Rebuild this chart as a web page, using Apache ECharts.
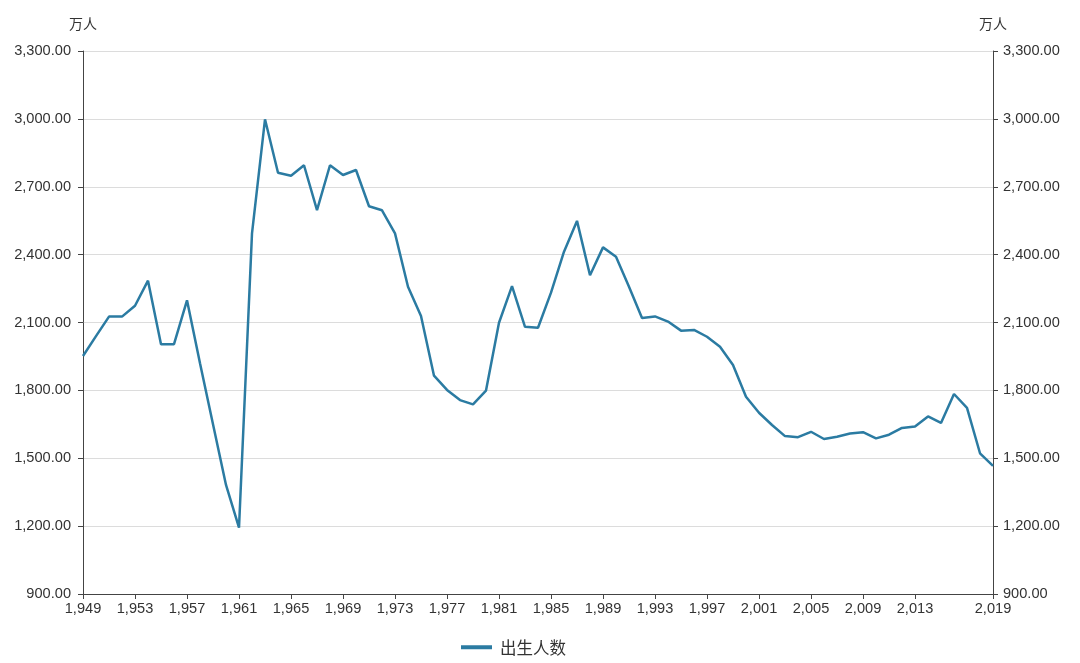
<!DOCTYPE html>
<html>
<head>
<meta charset="utf-8">
<script src="https://cdn.jsdelivr.net/npm/echarts@6/dist/echarts.min.js"></script>
<style>
html,body{margin:0;padding:0;background:#fff;}
#chart{width:1080px;height:663px;}
</style>
</head>
<body>
<div id="chart"></div>
<script>
const years = [
  1949,1950,1951,1952,1953,1954,1955,1956,1957,1958,
  1959,1960,1961,1962,1963,1964,1965,1966,1967,1968,
  1969,1970,1971,1972,1973,1974,1975,1976,1977,1978,
  1979,1980,1981,1982,1983,1984,1985,1986,1987,1988,
  1989,1990,1991,1992,1993,1994,1995,1996,1997,1998,
  1999,2000,2001,2002,2003,2004,2005,2006,2007,2008,
  2009,2010,2011,2012,2013,2014,2015,2016,2017,2018,
  2019
];
const births = [
  1952,2040,2126,2126,2174,2285,2004,2004,2198,1920,
  1650,1382,1193,2494,2998,2762,2749,2795,2597,2795,
  2752,2774,2614,2596,2494,2258,2129,1865,1802,1757,
  1738,1799,2099,2261,2081,2077,2232,2413,2549,2309,
  2432,2391,2258,2120,2127,2104,2064,2067,2037,1993,
  1912,1772,1701,1647,1598,1593,1617,1585,1595,1609,
  1615,1588,1604,1634,1640,1685,1656,1784,1723,1522,
  1466
];
const xTickYears = [1949,1953,1957,1961,1965,1969,1973,1977,1981,1985,1989,1993,1997,2001,2005,2009,2013,2019];
const seriesName = '出生人数';
const unitName = '万人';

function fmtThousands(v, dec) {
  const neg = v < 0;
  let s = Math.abs(v).toFixed(dec);
  let parts = s.split('.');
  parts[0] = parts[0].replace(/\B(?=(\d{3})+(?!\d))/g, ',');
  return (neg ? '-' : '') + parts.join('.');
}

const lineColor = '#2b7ba2';
const textColor = '#333';
const fontFam = '"Liberation Sans", Arial, sans-serif';
const cjkFam = '"Noto Sans CJK SC", sans-serif';

const chart = echarts.init(document.getElementById('chart'));
const yCommon = {
  type: 'value',
  min: 900,
  max: 3300,
  interval: 300,
  name: unitName,
  nameLocation: 'end',
  nameGap: 20,
  nameTextStyle: { color: textColor, fontSize: 14, fontFamily: cjkFam },
  axisLine: { show: true, lineStyle: { color: '#444', width: 1 } },
  axisTick: { show: true, length: 5, lineStyle: { color: '#444' } },
  axisLabel: {
    color: textColor, fontSize: 14.6, fontFamily: fontFam, margin: 11,
    formatter: v => fmtThousands(v, 2)
  }
};
chart.setOption({
  animation: false,
  grid: { left: 83, right: 87, top: 51, bottom: 69, containLabel: false },
  legend: {
    left: 456, top: 634,
    icon: 'rect', itemWidth: 31, itemHeight: 4, itemGap: 10,
    textStyle: { color: textColor, fontSize: 16.5, fontFamily: cjkFam, padding: [0, 0, 0, 3] },
    data: [seriesName]
  },
  xAxis: {
    type: 'value',
    min: 1949,
    max: 2019,
    splitLine: { show: false },
    axisLine: { show: true, lineStyle: { color: '#444' } },
    axisTick: { show: true, length: 5, customValues: xTickYears, lineStyle: { color: '#444' } },
    axisLabel: {
      customValues: xTickYears,
      color: textColor, fontSize: 14.6, fontFamily: fontFam, margin: 7,
      formatter: v => fmtThousands(v, 0)
    }
  },
  yAxis: [
    Object.assign({}, yCommon, {
      position: 'left',
      axisLabel: Object.assign({}, yCommon.axisLabel, { margin: 12 }),
      splitLine: { show: true, lineStyle: { color: '#dcdcdc', width: 1 } }
    }),
    Object.assign({}, yCommon, {
      position: 'right',
      axisLabel: Object.assign({}, yCommon.axisLabel, { margin: 10 }),
      splitLine: { show: false }
    })
  ],
  series: [{
    name: seriesName,
    type: 'line',
    yAxisIndex: 0,
    data: years.map((y, i) => [y, births[i]]),
    showSymbol: false,
    symbol: 'none',
    lineStyle: { color: lineColor, width: 2.5 },
    itemStyle: { color: lineColor }
  }]
});
</script>
</body>
</html>
